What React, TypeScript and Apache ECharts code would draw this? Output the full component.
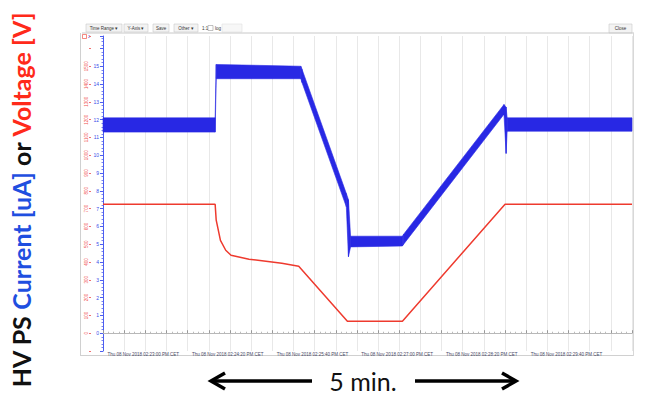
import React, { useEffect, useRef } from "react";
import * as echarts from "echarts";

// time in seconds from the left edge of the plot
const voltageTime = [0, 106, 107, 111, 116, 121, 138, 154, 169, 185, 231, 283, 380, 500];
const voltageValue = [725, 725, 635, 522, 466, 438, 416, 404, 393, 376, 67, 67, 725, 725];

// current trace drawn as a noise envelope (top / bottom of the band)
const currentTime = [0, 106, 107, 187, 188, 230, 232, 234, 283, 284, 379, 381, 382, 500];
const currentHigh = [12.1, 12.1, 15.1, 15.0, 14.85, 7.85, 7.5, 5.45, 5.45, 5.55, 12.85, 12.7, 12.1, 12.1];
const currentLow = [11.3, 11.3, 14.3, 14.3, 14.1, 7.1, 4.3, 4.85, 4.9, 4.99, 12.3, 10.1, 11.35, 11.35];

const timeTickValues = [38, 118, 198, 278, 358, 438];
const timeTickLabels = [
  "Thu 08 Nov 2018 02:23:00 PM CET",
  "Thu 08 Nov 2018 02:24:20 PM CET",
  "Thu 08 Nov 2018 02:25:40 PM CET",
  "Thu 08 Nov 2018 02:27:00 PM CET",
  "Thu 08 Nov 2018 02:28:20 PM CET",
  "Thu 08 Nov 2018 02:29:40 PM CET",
];

const toolbarButtons = [
  { label: "Time Range \u25BE", x: 86, w: 36 },
  { label: "Y-Axis \u25BE", x: 124, w: 24 },
  { label: "Save", x: 153, w: 16 },
  { label: "Other \u25BE", x: 174, w: 24 },
];

const BLUE = "#2828e4";
const RED = "#ee3a2e";

export default function App() {
  const ref = useRef<HTMLDivElement>(null);

  useEffect(() => {
    if (!ref.current) return;
    const chart = echarts.init(ref.current, null, { renderer: "svg" });

    const smallFont = "Liberation Sans";

    const toolbar: any[] = [];
    toolbarButtons.forEach((b) => {
      toolbar.push({
        type: "rect",
        shape: { x: b.x, y: 24, width: b.w, height: 8 },
        style: { fill: "#f3f3f3", stroke: "#c9c9c9", lineWidth: 0.6 },
      });
      toolbar.push({
        type: "text",
        x: b.x + b.w / 2,
        y: 28,
        style: {
          text: b.label,
          fontSize: 4.5,
          fontFamily: smallFont,
          fill: "#333",
          align: "center",
          verticalAlign: "middle",
        },
      });
    });
    toolbar.push(
      { type: "text", x: 202, y: 28, style: { text: "1:1", fontSize: 4.5, fontFamily: smallFont, fill: "#333", verticalAlign: "middle" } },
      { type: "rect", shape: { x: 208, y: 25.5, width: 5, height: 5 }, style: { fill: "#fff", stroke: "#999", lineWidth: 0.6 } },
      { type: "text", x: 215, y: 28, style: { text: "log", fontSize: 4.5, fontFamily: smallFont, fill: "#333", verticalAlign: "middle" } },
      { type: "rect", shape: { x: 222, y: 24, width: 20, height: 8 }, style: { fill: "#f7f7f7", stroke: "#e0e0e0", lineWidth: 0.6 } },
      { type: "rect", shape: { x: 609, y: 24, width: 23, height: 9 }, style: { fill: "#f3f3f3", stroke: "#c9c9c9", lineWidth: 0.6 } },
      { type: "text", x: 620.5, y: 28.5, style: { text: "Close", fontSize: 4.5, fontFamily: smallFont, fill: "#333", align: "center", verticalAlign: "middle" } },
      { type: "line", shape: { x1: 82, y1: 33, x2: 634, y2: 33 }, style: { stroke: "#c8c8c8", lineWidth: 1 } },
      { type: "line", shape: { x1: 80.5, y1: 33, x2: 80.5, y2: 356 }, style: { stroke: "#d0d0d0", lineWidth: 1 } },
      { type: "line", shape: { x1: 80, y1: 355.5, x2: 634, y2: 355.5 }, style: { stroke: "#d0d0d0", lineWidth: 1 } },
      { type: "line", shape: { x1: 633.5, y1: 33, x2: 633.5, y2: 356 }, style: { stroke: "#d8d8d8", lineWidth: 1 } },
      { type: "rect", shape: { x: 82.5, y: 34.5, width: 4, height: 4 }, style: { fill: "none", stroke: RED, lineWidth: 0.6 } },
      { type: "text", x: 88, y: 36.5, style: { text: "2", fontSize: 3.5, fontFamily: smallFont, fill: BLUE, verticalAlign: "middle" } }
    );

    const arrowY = 381;
    const arrows: any[] = [
      { type: "line", shape: { x1: 211, y1: arrowY, x2: 312, y2: arrowY }, style: { stroke: "#000", lineWidth: 3.5 } },
      { type: "polyline", shape: { points: [[225, 373], [211, arrowY], [225, 389]] }, style: { stroke: "#000", lineWidth: 3.5, fill: "none", lineJoin: "miter" } },
      { type: "line", shape: { x1: 415, y1: arrowY, x2: 516, y2: arrowY }, style: { stroke: "#000", lineWidth: 3.5 } },
      { type: "polyline", shape: { points: [[502, 373], [516, arrowY], [502, 389]] }, style: { stroke: "#000", lineWidth: 3.5, fill: "none", lineJoin: "miter" } },
      {
        type: "text",
        x: 363,
        y: 381,
        style: { text: "5 min.", fontSize: 25, fontFamily: "Lato", fill: "#111", align: "center", verticalAlign: "middle" },
      },
    ];

    const yLabel = {
      type: "text",
      x: 21,
      y: 200,
      rotation: Math.PI / 2,
      style: {
        text: "{k|HV PS }{b|Current [uA]}{k| or }{r|Voltage [V]}",
        align: "center",
        verticalAlign: "middle",
        rich: {
          k: { fill: "#111", fontSize: 25, fontWeight: "bold", fontFamily: "Lato" },
          b: { fill: "#1f4fe0", fontSize: 25, fontWeight: "bold", fontFamily: "Lato" },
          r: { fill: "#ff2a1a", fontSize: 25, fontWeight: "bold", fontFamily: "Lato" },
        },
      },
    };

    const option: any = {
      animation: false,
      backgroundColor: "#ffffff",
      grid: { left: 103, right: 20, top: 36, bottom: 51, containLabel: false },
      xAxis: {
        type: "value",
        min: 0,
        max: 500,
        interval: 20,
        axisLine: { show: true, lineStyle: { color: "#b8b8b8", width: 1 } },
        axisTick: { show: true, inside: true, length: 3, lineStyle: { color: "#999" } },
        minorTick: { show: true, splitNumber: 4, length: 1.5, lineStyle: { color: "#bbb" } },
        splitLine: { show: true, lineStyle: { color: "#e8e8e8", width: 1 } },
        axisLabel: {
          customValues: timeTickValues,
          formatter: (v: number) => {
            const i = timeTickValues.indexOf(Math.round(v));
            return i >= 0 ? timeTickLabels[i] : "";
          },
          fontSize: 4.5,
          fontFamily: smallFont,
          color: "#4a4a66",
          margin: 1,
          hideOverlap: false,
        },
      },
      yAxis: [
        {
          type: "value",
          position: "left",
          min: -1,
          max: 16.7,
          interval: 1,
          axisLine: { show: true, lineStyle: { color: "#4d5ef0", width: 1 } },
          axisTick: { show: true, length: 3, lineStyle: { color: "#4d5ef0" } },
          minorTick: { show: true, splitNumber: 5, length: 1.5, lineStyle: { color: "#7a86f0" } },
          splitLine: { show: false },
          axisLabel: {
            fontSize: 5,
            fontFamily: smallFont,
            color: "#3b4de8",
            margin: 4,
            formatter: (v: number) => (v < 0 || v > 15 ? "" : String(v)),
          },
        },
        {
          type: "value",
          position: "left",
          offset: 12,
          min: -100,
          max: 1670,
          interval: 100,
          axisLine: { show: false },
          axisTick: { show: true, length: 2, lineStyle: { color: "#f07070" } },
          splitLine: { show: false },
          axisLabel: {
            fontSize: 4.5,
            fontFamily: smallFont,
            color: "#f05050",
            rotate: 90,
            margin: 2,
            formatter: (v: number) => (v < 0 || v > 1500 ? "" : String(v)),
          },
        },
      ],
      series: [
        {
          name: "Voltage",
          type: "line",
          yAxisIndex: 1,
          data: voltageTime.map((t, i) => [t, voltageValue[i]]),
          showSymbol: false,
          lineStyle: { color: RED, width: 1.5 },
          z: 2,
        },
        {
          name: "Current",
          type: "custom",
          yAxisIndex: 0,
          data: currentTime.map((t, i) => [t, currentHigh[i], currentLow[i]]),
          encode: { x: 0, y: [1, 2] },
          renderItem: (params: any, api: any) => {
            const i = params.dataIndex;
            if (i >= currentTime.length - 1) return { type: "group", children: [] };
            const pts = [
              api.coord([currentTime[i], currentHigh[i]]),
              api.coord([currentTime[i + 1], currentHigh[i + 1]]),
              api.coord([currentTime[i + 1], currentLow[i + 1]]),
              api.coord([currentTime[i], currentLow[i]]),
            ];
            return {
              type: "polygon",
              shape: { points: pts },
              style: { fill: BLUE, stroke: BLUE, lineWidth: 0.6 },
            };
          },
          z: 3,
        },
      ],
      graphic: [...toolbar, ...arrows, yLabel],
    };

    chart.setOption(option);
    return () => chart.dispose();
  }, []);

  return (
    <div
      ref={ref}
      style={{ position: "fixed", left: 0, top: 0, width: 652, height: 402, background: "#fff" }}
    />
  );
}
